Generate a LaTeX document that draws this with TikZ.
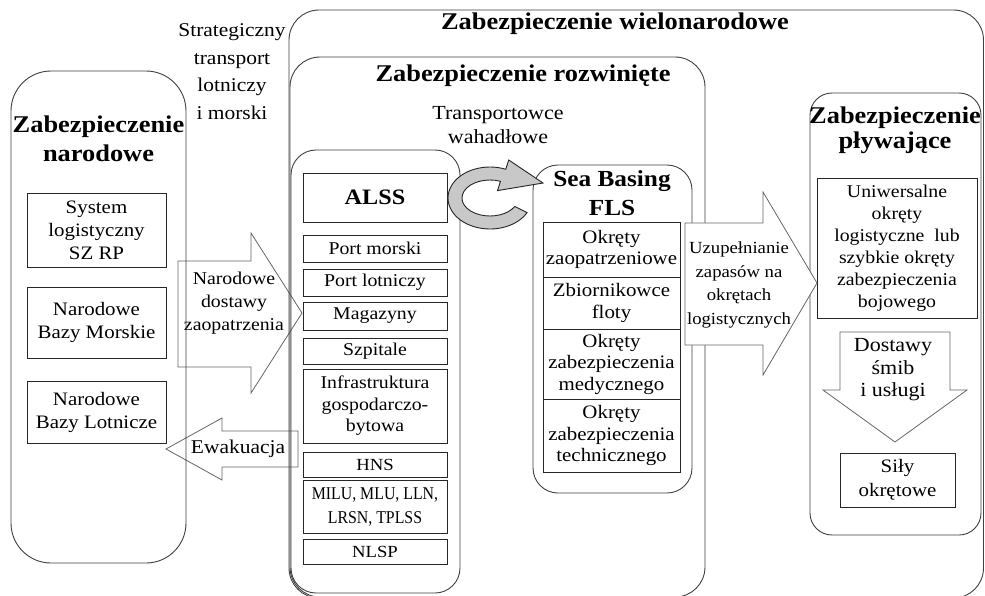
\documentclass[tikz,border=0pt]{standalone}
\usepackage{fontspec}
\setmainfont[FakeStretch=1.1]{Liberation Serif}
\newfontfamily\narrowfont[FakeStretch=0.88]{Liberation Serif}
\usetikzlibrary{calc}
\newcommand{\fsz}[2]{\fontsize{#1}{#2}\selectfont}
\definecolor{ringgray}{RGB}{200,200,200}

\begin{document}
\begin{tikzpicture}[x=1pt,y=-1pt,
  container/.style={draw=black!75, line width=0.9pt, outer sep=0pt, inner sep=0pt},
  item/.style={draw=black!85, fill=white, line width=0.8pt, align=center,
    inner sep=0pt, outer sep=0pt, font=\fsz{18}{21.5}},
  blockarrow/.style={draw=black!60, fill=white, line width=0.8pt, line join=miter},
  label/.style={align=center, inner sep=0pt},
  title/.style={align=center, inner sep=0pt, font=\bfseries\fsz{24}{29}}
]
\useasboundingbox (0,0) rectangle (985,595);
\fill[white] (0,0) rectangle (985,595);

% block arrows lying under the containers
\draw[blockarrow] (178,261) -- (251,261) -- (251,233) -- (302,313) -- (251,393)
  -- (251,367) -- (178,367) -- cycle;
\node[label, font=\fsz{18}{23}] (dostawyNar) at (234,303) {Narodowe\\dostawy\\zaopatrzenia};
\draw[blockarrow] (166,449) -- (222,418) -- (222,431) -- (298,431) -- (298,467)
  -- (222,467) -- (222,480) -- cycle;
\node[label, font=\fsz{19.5}{23}] (ewak) at (238,449) {Ewakuacja};

% containers
\node[container, rounded corners=40pt, minimum width=175pt, minimum height=492pt,
  anchor=north west] (national) at (11,71) {};
\node[container, rounded corners=30pt, minimum width=694.5pt, minimum height=588pt,
  anchor=north west] (multi) at (289,10) {};
\node[container, rounded corners=30pt, minimum width=415pt, minimum height=540pt,
  anchor=north west] (developed) at (290,57) {};
\node[container, rounded corners=25pt, minimum width=169pt, minimum height=443pt,
  anchor=north west] (alssgroup) at (291,150) {};
\node[container, rounded corners=25pt, minimum width=159pt, minimum height=328pt,
  anchor=north west] (seabasing) at (533,165) {};
\node[container, rounded corners=22pt, minimum width=171pt, minimum height=442pt,
  anchor=north west] (floating) at (810,93) {};

% titles and free labels
\node[title] (natTitle) at (98.5,139) {Zabezpieczenie\\narodowe};
\node[label, font=\fsz{19.5}{27.5}] (strat) at (232,71.5)
  {Strategiczny\\transport\\lotniczy\\i morski};
\node[title] (multiTitle) at (615,24) {Zabezpieczenie wielonarodowe};
\node[title] (devTitle) at (523,76) {Zabezpieczenie rozwinięte};
\node[label, font=\fsz{20}{24}] (shuttle) at (498,125) {Transportowce\\wahadłowe};
\node[title, font=\bfseries\fsz{23}{29}] (seaTitle) at (612,193) {Sea Basing\\FLS};
\node[title, font=\bfseries\fsz{24}{25}] (floatTitle) at (895,130.5)
  {Zabezpieczenie\\pływające};

% national level
\node[item, font=\fsz{19}{23}, minimum width=139pt, minimum height=74pt] (sys)
  at (96.5,230) {System\\logistyczny\\SZ RP};
\node[item, font=\fsz{19}{23}, minimum width=139pt, minimum height=71pt] (nbm)
  at (96.5,322.5) {Narodowe\\Bazy Morskie};
\node[item, font=\fsz{19}{23}, minimum width=139pt, minimum height=62pt] (nbl)
  at (96.5,412) {Narodowe\\Bazy Lotnicze};

% ALSS column
\node[item, font=\bfseries\fsz{22}{26}, minimum width=144pt, minimum height=49pt] (alss)
  at (375,197.5) {ALSS};
\node[item, minimum width=144pt, minimum height=27pt] (portM) at (375,248.5) {Port morski};
\node[item, minimum width=144pt, minimum height=27pt] (portL) at (375,282.5) {Port lotniczy};
\node[item, minimum width=144pt, minimum height=28pt] (mag) at (375,316) {Magazyny};
\node[item, minimum width=144pt, minimum height=26pt] (szp) at (375,351) {Szpitale};
\node[item, minimum width=144pt, minimum height=74pt] (infra) at (375,406)
  {Infrastruktura\\gospodarczo-\\bytowa};
\node[item, font=\fsz{17}{21}, minimum width=144pt, minimum height=25pt] (hns)
  at (375,464.5) {HNS};
\node[item, font=\narrowfont\fsz{18}{24}, minimum width=144pt, minimum height=53pt] (milu)
  at (375,506.5) {MILU, MLU, LLN,\\LRSN, TPLSS};
\node[item, font=\fsz{17}{21}, minimum width=144pt, minimum height=25pt] (nlsp)
  at (375,551.5) {NLSP};

% Sea Basing column
\node[item, font=\fsz{19}{21}, minimum width=137pt, minimum height=55pt] (ok1)
  at (611.5,249.5) {Okręty\\zaopatrzeniowe};
\node[item, font=\fsz{19}{21.5}, minimum width=137pt, minimum height=52pt] (zb)
  at (611.5,303) {Zbiornikowce\\floty};
\node[item, font=\fsz{19}{21.5}, minimum width=137pt, minimum height=70pt] (med)
  at (611.5,364) {Okręty\\zabezpieczenia\\medycznego};
\node[item, font=\fsz{19}{21.5}, minimum width=137pt, minimum height=73pt] (tech)
  at (611.5,435.5) {Okręty\\zabezpieczenia\\technicznego};

% floating support column
\node[item, font=\fsz{18}{22}, minimum width=160pt, minimum height=140pt] (uni)
  at (897,248) {Uniwersalne\\okręty\\logistyczne~ lub\\szybkie okręty\\zabezpieczenia\\bojowego};
\node[item, font=\fsz{19}{24}, minimum width=115pt, minimum height=54pt] (sily)
  at (897.5,480) {Siły\\okrętowe};

% circular shuttle arrow
\coordinate (ringC) at (490,198);
\filldraw[draw=black!85, fill=ringgray, line width=0.9pt, line join=miter]
  ($(ringC)+(28:42 and 31)$) arc[start angle=28, end angle=292, x radius=42, y radius=31]
  -- ($(ringC)+(292:50 and 41)$) -- (543,183)
  -- ($(ringC)+(292:20 and 8)$) -- ($(ringC)+(292:28 and 18)$)
  arc[start angle=292, end angle=28, x radius=28, y radius=18] -- cycle;

% replenishment arrow, drawn over the container edges
\draw[blockarrow] (685,223) -- (763,223) -- (763,192) -- (817,283) -- (763,375)
  -- (763,345) -- (685,345) -- cycle;
\node[label, font=\fsz{17}{23.5}] (uzup) at (739,285)
  {Uzupełnianie\\zapasów na\\okrętach\\logistycznych};

% supplies arrow inside the floating column
\draw[blockarrow] (840,332) -- (950,332) -- (950,390) -- (967,390) -- (895,442)
  -- (823,390) -- (840,390) -- cycle;
\node[label, font=\fsz{20}{22.5}] (dost) at (893,370) {Dostawy\\śmib\\i usługi};
\end{tikzpicture}
\end{document}
